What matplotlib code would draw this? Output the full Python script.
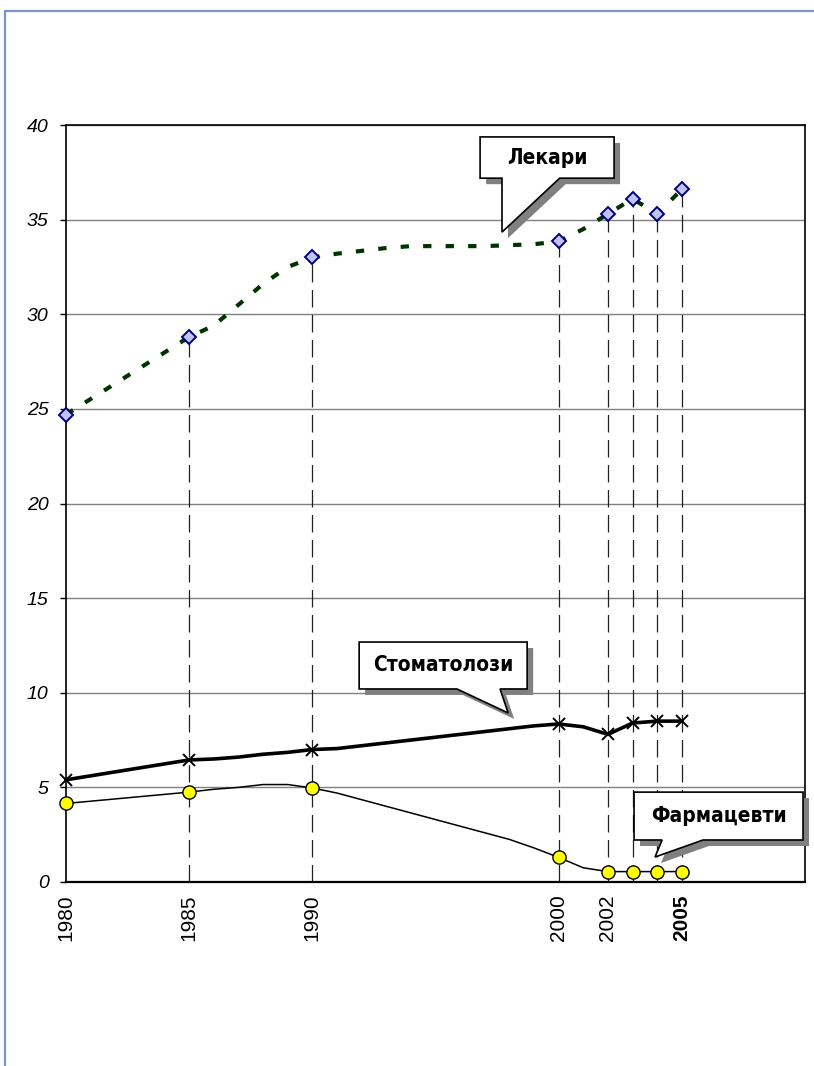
import numpy as np
import matplotlib
matplotlib.use('Agg')
import matplotlib.pyplot as plt
import matplotlib.transforms as mtransforms
from matplotlib.patches import Polygon, Rectangle

years = [1980, 1985, 1986, 1987, 1988, 1989, 1990, 1991, 1992, 1993, 1994,
         1995, 1996, 1997, 1998, 1999, 2000, 2001, 2002, 2003, 2004, 2005]
lekari = [24.7, 28.8, 29.4, 30.5, 31.6, 32.5, 33.0, 33.2, 33.35, 33.5, 33.6,
          33.6, 33.6, 33.6, 33.65, 33.7, 33.85, 34.5, 35.3, 36.1, 35.3, 36.6]
stomat = [5.4, 6.45, 6.5, 6.6, 6.75, 6.85, 7.0, 7.05, 7.2, 7.35, 7.5,
          7.65, 7.8, 7.95, 8.1, 8.25, 8.35, 8.2, 7.8, 8.4, 8.5, 8.5]
farma = [4.15, 4.75, 4.9, 5.0, 5.15, 5.15, 4.97, 4.7, 4.35, 4.0, 3.65,
         3.3, 2.95, 2.6, 2.25, 1.8, 1.3, 0.75, 0.55, 0.55, 0.55, 0.55]
marker_years = [1980, 1985, 1990, 2000, 2002, 2003, 2004, 2005]
tick_years = [1980, 1985, 1990, 2000, 2002, 2005]

# callout boxes: label, box (x0, x1, y0, y1), pointer base (xl, xr), tip (x, y)
callouts = [
    ('Лекари', (1996.81, 2002.25, 37.19, 39.37), (1997.70, 2000.04), (1997.70, 34.34)),
    ('Стоматолози', (1991.90, 1998.72, 10.20, 12.68), (1995.87, 1997.62), (1997.95, 8.93)),
    ('Фармацевти', (2003.06, 2009.92, 2.22, 4.75), (2004.20, 2005.86), (2003.91, 1.32)),
]

mark_idx = [years.index(y) for y in marker_years]

fig = plt.figure(figsize=(8.14, 10.66), dpi=100)
ax = fig.add_axes([66/814, (1066-882)/1066, (805-66)/814, (882-125)/1066])

#outer blue frame
fig.patches.append(Rectangle((5/814, -0.1), 1.2, (1066-11)/1066 + 0.1,
                             transform=fig.transFigure, fill=False,
                             edgecolor='#7b96c8', lw=1.6))

ax.set_xlim(1980, 2010)
ax.set_ylim(0, 40)

ax.set_yticks(np.arange(0, 41, 5))
ax.yaxis.grid(True, color='#808080', lw=1.0)
ax.set_axisbelow(True)

#drop lines from the Лекари markers (1980 sits on the axis itself)
lek_m = [lekari[i] for i in mark_idx]
ax.vlines(marker_years[1:], 0, lek_m[1:], colors='#202020', lw=0.9,
          linestyles=(0, (14, 6)), zorder=2)

ax.plot(years, lekari, color='#003300', lw=3.0, dashes=(2.0, 3.4),
        zorder=3)
ax.plot(marker_years, lek_m, ls='none', marker='D', ms=7.5,
        mfc='#c0c4f4', mec='#00007a', mew=1.4, zorder=4, clip_on=False)

ax.plot(years, stomat, color='black', lw=2.6, marker='x', ms=9, mew=1.4,
        markevery=mark_idx, zorder=3, clip_on=False)

ax.plot(years, farma, color='black', lw=1.1, marker='o', ms=9.5,
        mfc='#ffff00', mec='black', mew=1.0, markevery=mark_idx, zorder=3,
        clip_on=False)

for s in ax.spines.values():
    s.set_color('black')
    s.set_linewidth(1.2)
    s.set_zorder(2.5)
ax.spines['bottom'].set_linewidth(1.6)

ax.set_xticks(tick_years)
ax.set_xticklabels([str(y) for y in tick_years], rotation=90,
                   fontsize=15, family='Liberation Sans')
ax.get_xticklabels()[-1].set_fontweight('bold')
ax.tick_params(axis='x', length=0, pad=9)
ax.set_yticklabels([str(v) for v in range(0, 41, 5)], fontsize=14,
                   fontstyle='italic', family='Liberation Sans')
ax.tick_params(axis='y', length=4.5, width=1, pad=8, direction='out')

shadow = ax.transData + mtransforms.ScaledTranslation(0.06, -0.06, fig.dpi_scale_trans)
for label, (x0, x1, y0, y1), (bl, br), (tx, ty) in callouts:
    verts = [(x0, y1), (x1, y1), (x1, y0), (br, y0), (tx, ty), (bl, y0), (x0, y0)]
    ax.add_patch(Polygon(verts, closed=True, facecolor='#808080',
                         edgecolor='none', transform=shadow, zorder=6,
                         clip_on=False))
    ax.add_patch(Polygon(verts, closed=True, facecolor='white',
                         edgecolor='black', lw=1.2, zorder=7, clip_on=False))
    ax.text((x0 + x1) / 2, (y0 + y1) / 2, label, ha='center', va='center',
            fontsize=15, fontweight='bold', fontstretch='condensed',
            family='DejaVu Sans', zorder=8)

fig.savefig('out.png', dpi=100)
